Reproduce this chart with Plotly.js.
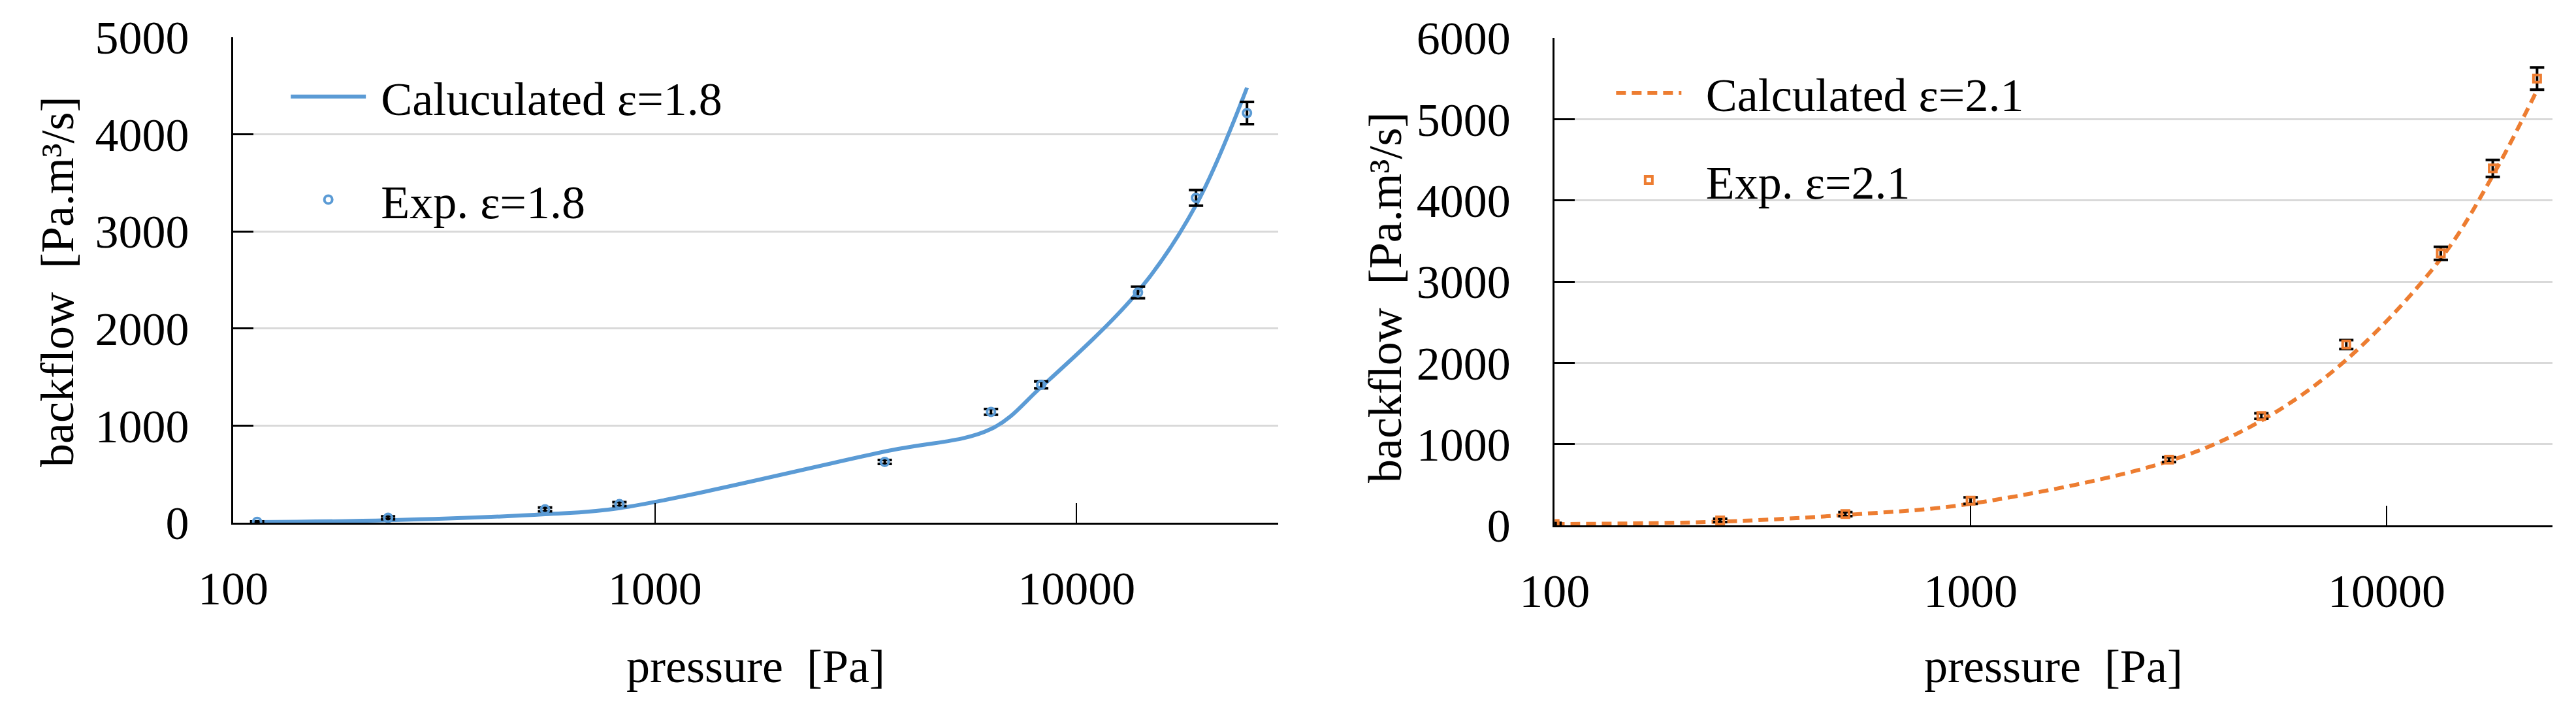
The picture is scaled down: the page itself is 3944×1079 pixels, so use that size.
<!DOCTYPE html>
<html>
<head>
<meta charset="utf-8">
<script src="https://cdn.plot.ly/plotly-3.0.1.min.js"></script>
<style>
  body { margin: 0; background: #fff; }
  #chart { width: 3944px; height: 1079px; }
</style>
</head>
<body>
<div id="chart"></div>
<script>
// left panel, eps = 1.8
const pressureA = [114, 233, 549, 824, 3508, 6266, 8240, 13980, 19190, 25350];
const expA = [8, 50, 137, 191, 626, 1141, 1420, 2371, 3346, 4219];
const errA = [5, 15, 20, 20, 20, 30, 35, 60, 80, 114];
const calcA = [6, 25, 87, 150, 733, 965, 1397, 2380, 3271, 4480];

// right panel, eps = 2.1
const pressureB = [100, 250, 500, 1000, 3000, 5000, 8000, 13500, 18000, 23000];
const expB = [15, 60, 138, 304, 808, 1345, 2225, 3348, 4394, 5500];
const errB = [15, 20, 25, 40, 30, 35, 55, 80, 105, 137];
const calcB = [15, 45, 127, 265, 791, 1289, 2037, 3282, 4305, 5357];

const xTicks = [100, 1000, 10000];
const yTicksA = [0, 1000, 2000, 3000, 4000, 5000];
const yTicksB = [0, 1000, 2000, 3000, 4000, 5000, 6000];

const BLUE = '#5B9BD5';
const ORANGE = '#ED7D31';
const FONT = 'Liberation Serif, Times New Roman, serif';

const data = [
  {
    x: pressureA, y: calcA, name: '\u00a0Caluculated \u03b5=1.8',
    mode: 'lines', line: { color: BLUE, width: 6, shape: 'spline', smoothing: 1 },
    xaxis: 'x', yaxis: 'y', legend: 'legend', legendgroup: 'a1',
  },
  {
    x: pressureA, y: expA, name: '\u00a0Exp. \u03b5=1.8',
    mode: 'markers',
    marker: { symbol: 'circle-open', size: 12, color: BLUE, line: { width: 4, color: BLUE } },
    error_y: { type: 'data', array: errA, visible: true, color: '#000', thickness: 4, width: 11 },
    xaxis: 'x', yaxis: 'y', legend: 'legend', legendgroup: 'a2',
  },
  {
    x: pressureB, y: calcB, name: '\u00a0\u2009Calculated \u03b5=2.1',
    mode: 'lines', line: { color: ORANGE, width: 6, dash: '15px,9px', shape: 'spline', smoothing: 1 },
    xaxis: 'x2', yaxis: 'y2', legend: 'legend2', legendgroup: 'b1',
  },
  {
    x: pressureB, y: expB, name: '\u00a0\u2009Exp. \u03b5=2.1',
    mode: 'markers',
    marker: { symbol: 'square-open', size: 11, color: ORANGE, line: { width: 4, color: ORANGE } },
    error_y: { type: 'data', array: errB, visible: true, color: '#000', thickness: 4, width: 11 },
    xaxis: 'x2', yaxis: 'y2', legend: 'legend2', legendgroup: 'b2',
  },
];

const xBase = {
  type: 'log',
  tickvals: xTicks,
  ticktext: xTicks.map(String),
  showgrid: false,
  zeroline: false,
  showline: true,
  linecolor: '#000',
  linewidth: 3,
  ticks: 'inside',
  ticklen: 30,
  tickwidth: 2,
  tickcolor: '#000',
  ticklabelstandoff: 36,
  tickfont: { family: FONT, size: 72, color: '#000' },
  automargin: false,
};

const yBase = {
  showgrid: true,
  gridcolor: '#D9D9D9',
  gridwidth: 3,
  zeroline: false,
  showline: true,
  linecolor: '#000',
  linewidth: 3,
  ticks: 'inside',
  ticklen: 31,
  tickwidth: 3,
  tickcolor: '#000',
  ticklabelstandoff: 50,
  tickfont: { family: FONT, size: 72, color: '#000' },
  automargin: false,
};

const titleFont = { family: FONT, size: 72, color: '#000' };

const layout = {
  width: 3944,
  height: 1079,
  margin: { l: 0, r: 0, t: 0, b: 0 },
  paper_bgcolor: '#fff',
  plot_bgcolor: '#fff',
  font: { family: FONT, size: 72, color: '#000' },
  xaxis: Object.assign({}, xBase, { domain: [0.0905, 0.4962], range: [2, 4.478], anchor: 'y' }),
  yaxis: Object.assign({}, yBase, { domain: [0.2586, 0.9472], range: [0, 5000], tickvals: yTicksA, anchor: 'x' }),
  xaxis2: Object.assign({}, xBase, { domain: [0.6035, 0.9909], range: [2, 4.399], anchor: 'y2' }),
  yaxis2: Object.assign({}, yBase, { domain: [0.2549, 0.9462], range: [0, 6000], tickvals: yTicksB, anchor: 'x2' }),
  legend: {
    x: 0.1116, y: 0.9124, xanchor: 'left', yanchor: 'top',
    bgcolor: 'rgba(0,0,0,0)', font: titleFont,
    itemwidth: 115, tracegroupgap: 61, traceorder: 'grouped',
  },
  legend2: {
    x: 0.6261, y: 0.9178, xanchor: 'left', yanchor: 'top',
    bgcolor: 'rgba(0,0,0,0)', font: titleFont,
    itemwidth: 100, tracegroupgap: 37, traceorder: 'grouped',
  },
  annotations: [
    { text: 'pressure\u00a0\u00a0[Pa]', xref: 'paper', yref: 'paper', x: 0.2934, y: 0.0547,
      showarrow: false, font: titleFont, xanchor: 'center', yanchor: 'middle' },
    { text: 'pressure\u00a0\u00a0[Pa]', xref: 'paper', yref: 'paper', x: 0.7972, y: 0.0547,
      showarrow: false, font: titleFont, xanchor: 'center', yanchor: 'middle' },
    { text: 'backflow\u00a0\u00a0[Pa.m\u00b3/s]', xref: 'paper', yref: 'paper', x: 0.0223, y: 0.6006,
      showarrow: false, font: titleFont, textangle: -90, xanchor: 'center', yanchor: 'middle' },
    { text: 'backflow\u00a0\u00a0[Pa.m\u00b3/s]', xref: 'paper', yref: 'paper', x: 0.5378, y: 0.5774,
      showarrow: false, font: titleFont, textangle: -90, xanchor: 'center', yanchor: 'middle' },
  ],
};

Plotly.newPlot('chart', data, layout, { displayModeBar: false, staticPlot: true });
</script>
</body>
</html>
